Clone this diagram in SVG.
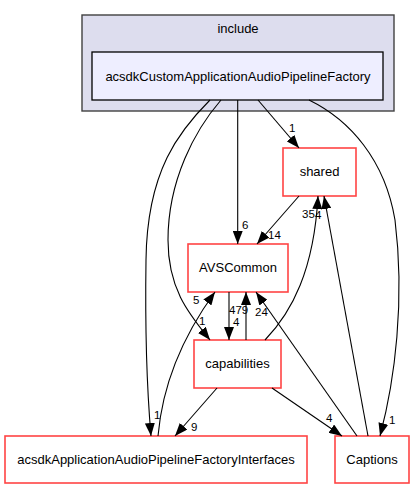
<svg xmlns="http://www.w3.org/2000/svg" width="415" height="489" viewBox="0 0 415 489">
<defs>
<style>
.n{fill:#ffffff;stroke:#ff4444;stroke-width:1.6}
.t{font-family:"Liberation Sans",Arial,sans-serif;font-size:13px;fill:#000;text-anchor:middle}
.l{font-family:"Liberation Sans",Arial,sans-serif;font-size:11.5px;fill:#000}
.e{fill:none;stroke:#000;stroke-width:1.1;marker-end:url(#ah)}
</style>
<marker id="ah" viewBox="0 0 13 10" refX="13" refY="5" markerWidth="13" markerHeight="10" markerUnits="userSpaceOnUse" orient="auto">
<path d="M0,0 L13,5 L0,10 z" fill="#000"/>
</marker>
</defs>
<rect width="415" height="489" fill="#ffffff"/>
<g id="cluster-include">
<rect x="82" y="15" width="312" height="96" fill="#ddddee" stroke="#404040" stroke-width="1.4"/>
<text class="t" x="238" y="33">include</text>
</g>
<g id="node-custom">
<rect x="92" y="52" width="291" height="48" fill="#eeeeff" stroke="#000" stroke-width="1.3"/>
<text class="t" x="238" y="81">acsdkCustomApplicationAudioPipelineFactory</text>
</g>
<g id="node-shared">
<rect class="n" x="283" y="148" width="73" height="48"/>
<text class="t" x="319.5" y="176">shared</text>
</g>
<g id="node-avscommon">
<rect class="n" x="188" y="244" width="100" height="48"/>
<text class="t" x="238" y="272">AVSCommon</text>
</g>
<g id="node-capabilities">
<rect class="n" x="194" y="340" width="87" height="48"/>
<text class="t" x="237.5" y="368">capabilities</text>
</g>
<g id="node-interfaces">
<rect class="n" x="5" y="436" width="302" height="47"/>
<text class="t" x="156" y="464">acsdkApplicationAudioPipelineFactoryInterfaces</text>
</g>
<g id="node-captions">
<rect class="n" x="335" y="436" width="74" height="47"/>
<text class="t" x="372" y="464">Captions</text>
</g>
<g id="connectors">
<path class="e" d="M258,100 L299,148"/>
<path class="e" d="M237.7,100 L237.7,244"/>
<path class="e" d="M221,100 C195,130 168,180 168,240 C168,290 190,315 210,340"/>
<path class="e" d="M210,100 C180,130 147,170 146,260 C145,330 147,390 151,436"/>
<path class="e" d="M309,100 C350,120 385,160 395,220 C405,300 395,380 380,436"/>
<path class="e" d="M299,196 L257,244"/>
<path class="e" d="M229,292 L229,340"/>
<path class="e" d="M246,340 L246,292"/>
<path class="e" d="M357,436 L256,292"/>
<path class="e" d="M265,340 C292,312 314,270 318,196"/>
<path class="e" d="M368,436 L324,196"/>
<path class="e" d="M217,388 L175,436"/>
<path class="e" d="M272,388 L342,436"/>
<path class="e" d="M158,436 C162,390 180,340 215,292"/>
<text class="l" x="289" y="132">1</text>
<text class="l" x="242" y="229">6</text>
<text class="l" x="268" y="239">14</text>
<text class="l" x="302" y="218">35</text>
<text class="l" x="315" y="219">4</text>
<text class="l" x="193" y="304">5</text>
<text class="l" x="199" y="325">1</text>
<text class="l" x="229" y="314">479</text>
<text class="l" x="233" y="326">4</text>
<text class="l" x="255" y="316">24</text>
<text class="l" x="154" y="419">1</text>
<text class="l" x="191" y="431">9</text>
<text class="l" x="326" y="422">4</text>
<text class="l" x="389" y="424">1</text>
</g>
</svg>
